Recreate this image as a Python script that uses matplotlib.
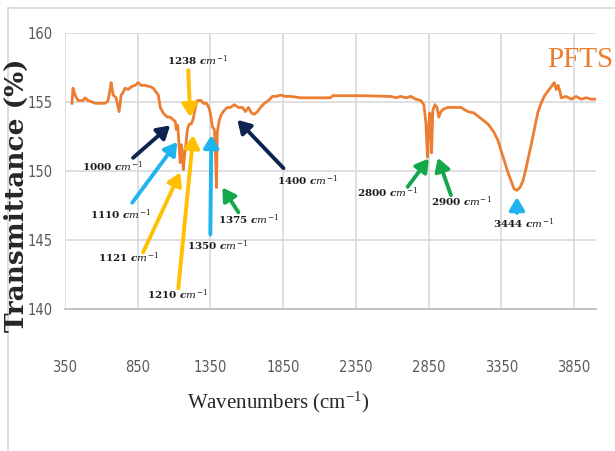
import matplotlib
matplotlib.use("Agg")
import matplotlib.pyplot as plt
from matplotlib.lines import Line2D

plt.rcParams["mathtext.fontset"] = "dejavuserif"

# FTIR spectrum of PFTS, read point by point
wavenumber = [398, 405, 419, 440, 453, 474, 488, 508, 536, 557, 591, 626, 646,
              660, 667, 681, 701, 722, 736, 750, 763, 784, 805, 832, 853, 874,
              901, 936, 956, 977, 991, 1005, 1025, 1053, 1073, 1094, 1108,
              1115, 1125, 1135, 1142, 1149, 1156, 1163, 1173, 1184, 1191, 1204,
              1218, 1232, 1246, 1259, 1273, 1287, 1301, 1322, 1335, 1349, 1363,
              1377, 1384, 1391, 1397, 1411, 1425, 1446, 1466, 1487, 1514, 1542,
              1570, 1590, 1611, 1632, 1652, 1673, 1694, 1721, 1749, 1776, 1804,
              1831, 1866, 1900, 1969, 2100, 2176, 2190, 2400, 2589, 2624, 2658,
              2693, 2727, 2762, 2796, 2817, 2831, 2842, 2851, 2858, 2865, 2870,
              2879, 2893, 2907, 2920, 2934, 2955, 2982, 3023, 3072, 3120, 3161,
              3209, 3258, 3299, 3327, 3347, 3368, 3395, 3416, 3437, 3457, 3478,
              3499, 3520, 3540, 3561, 3582, 3602, 3623, 3644, 3664, 3685, 3699,
              3713, 3727, 3740, 3754, 3761, 3795, 3830, 3864, 3898, 3933, 3967,
              4000]
transmittance = [154.9, 156.0, 155.5, 155.1, 155.1, 155.1, 155.3, 155.1, 155.0,
                 154.9, 154.9, 154.9, 155.1, 155.9, 156.4, 155.5, 155.3, 154.3,
                 155.5, 155.7, 156.0, 155.9, 156.1, 156.2, 156.4, 156.2, 156.2,
                 156.1, 156.0, 155.7, 155.5, 154.6, 154.2, 153.9, 153.9, 153.7,
                 153.6, 153.0, 153.3, 151.7, 150.6, 151.9, 151.5, 150.1, 151.2,
                 152.2, 153.0, 153.4, 153.4, 153.8, 154.6, 155.1, 155.1, 155.1,
                 154.9, 154.9, 154.7, 154.2, 153.2, 153.0, 151.3, 148.8, 152.8,
                 153.7, 154.1, 154.4, 154.6, 154.6, 154.8, 154.6, 154.6, 154.3,
                 154.6, 154.2, 154.1, 154.3, 154.6, 154.9, 155.1, 155.4, 155.4,
                 155.5, 155.4, 155.4, 155.3, 155.3, 155.3, 155.45, 155.45, 155.4,
                 155.3, 155.4, 155.3, 155.4, 155.2, 155.1, 154.8, 153.5, 151.0,
                 153.3, 154.2, 153.3, 151.3, 154.4, 154.8, 154.6, 153.9, 154.3,
                 154.5, 154.6, 154.6, 154.6, 154.3, 154.2, 153.8, 153.4, 152.8,
                 152.2, 151.5, 150.8, 149.9, 149.3, 148.7, 148.6, 148.8, 149.3,
                 150.2, 151.2, 152.2, 153.3, 154.3, 154.9, 155.4, 155.7, 156.0,
                 156.2, 156.4, 155.9, 156.2, 155.7, 155.3, 155.4, 155.2, 155.4,
                 155.2, 155.3, 155.2, 155.2]

# band labels: text, text position, arrow tail, arrow tip, arrow colour
bands = ["1238", "1000", "1110", "1121", "1210", "1350", "1375", "1400",
         "2800", "2900", "3444"]
label_xy = [(1259, 158.0), (674, 150.3), (729, 146.8), (784, 143.7),
            (1122, 141.0), (1397, 144.6), (1611, 146.45), (2017, 149.3),
            (2569, 148.4), (3072, 147.75), (3499, 146.2)]
tail_xy = [(1197, 157.3), (818, 150.95), (812, 147.7), (887, 144.1),
           (1129, 141.5), (1349, 145.4), (1542, 147.0), (1852, 150.2),
           (2706, 148.85), (3003, 148.25), (3457, 146.95)]
tip_xy = [(1211, 153.9), (1073, 153.3), (1122, 152.1), (1142, 149.9),
          (1232, 152.6), (1356, 152.6), (1432, 148.8), (1535, 153.7),
          (2851, 150.9), (2913, 150.95), (3457, 148.1)]
arrow_colors = ["#ffc000", "#0d2350", "#1fb4ef", "#ffc000", "#ffc000",
                "#1fb4ef", "#13a84a", "#0d2350", "#13a84a", "#13a84a",
                "#1fb4ef"]

xticks = list(range(350, 4000, 500))
yticks = [140, 145, 150, 155, 160]

fig = plt.figure(figsize=(6.15, 4.51), dpi=100)
ax = fig.add_axes([0.1057, 0.315, 0.8633, 0.612])

ax.plot(wavenumber, transmittance, color="#ed7d31", lw=2.0, zorder=3)

ax.set_xlim(350, 4000)
ax.set_ylim(140, 160)
ax.set_xticks(xticks)
ax.set_yticks(yticks)
ax.grid(True, color="#d9d9d9", lw=1.2)
ax.set_axisbelow(True)
for side in ["top", "right", "left"]:
    ax.spines[side].set_visible(False)
ax.spines["bottom"].set_color("#bfbfbf")
ax.spines["bottom"].set_linewidth(1.3)
ax.tick_params(length=0, colors="#595959")
ax.tick_params(axis="x", pad=37)
ax.tick_params(axis="y", pad=9)
for lab in ax.get_xticklabels() + ax.get_yticklabels():
    lab.set_fontfamily("DejaVu Sans")
    lab.set_fontstretch("condensed")
    lab.set_fontsize(10.5)

for b, lxy, txy, pxy, c in zip(bands, label_xy, tail_xy, tip_xy, arrow_colors):
    ax.annotate("", xy=pxy, xytext=txy,
                arrowprops=dict(arrowstyle="-|>,head_width=0.45,head_length=0.75",
                                color=c, lw=2.8, shrinkA=0, shrinkB=0), zorder=4)
    ax.text(lxy[0], lxy[1], b + r" $\boldsymbol{cm^{-1}}$", ha="center",
            va="center", fontsize=7.5, fontweight="bold", family="DejaVu Serif",
            color="#1a1a1a", zorder=5)

ax.text(0.998, 0.867, "PFTS", transform=fig.transFigure, ha="right",
        va="center", fontsize=21, family="Liberation Serif", color="#ed7d31")

fig.text(0.026, 0.568, "Transmittance (%)", rotation=90, ha="center",
         va="center", fontsize=19, fontweight="bold", family="DejaVu Serif",
         color="#262626")
fig.text(0.453, 0.109, r"Wavenumbers (cm$^{\mathregular{-1}}$)", ha="center",
         va="center", fontsize=15, family="Liberation Serif", color="#262626")

# light frame of the chart area
fig.add_artist(Line2D([8 / 615, 1], [1 - 8 / 451] * 2, color="#d9d9d9", lw=1.3))
fig.add_artist(Line2D([8 / 615] * 2, [0, 1 - 8 / 451], color="#d9d9d9", lw=1.3))

fig.savefig("out.png", dpi=100)
